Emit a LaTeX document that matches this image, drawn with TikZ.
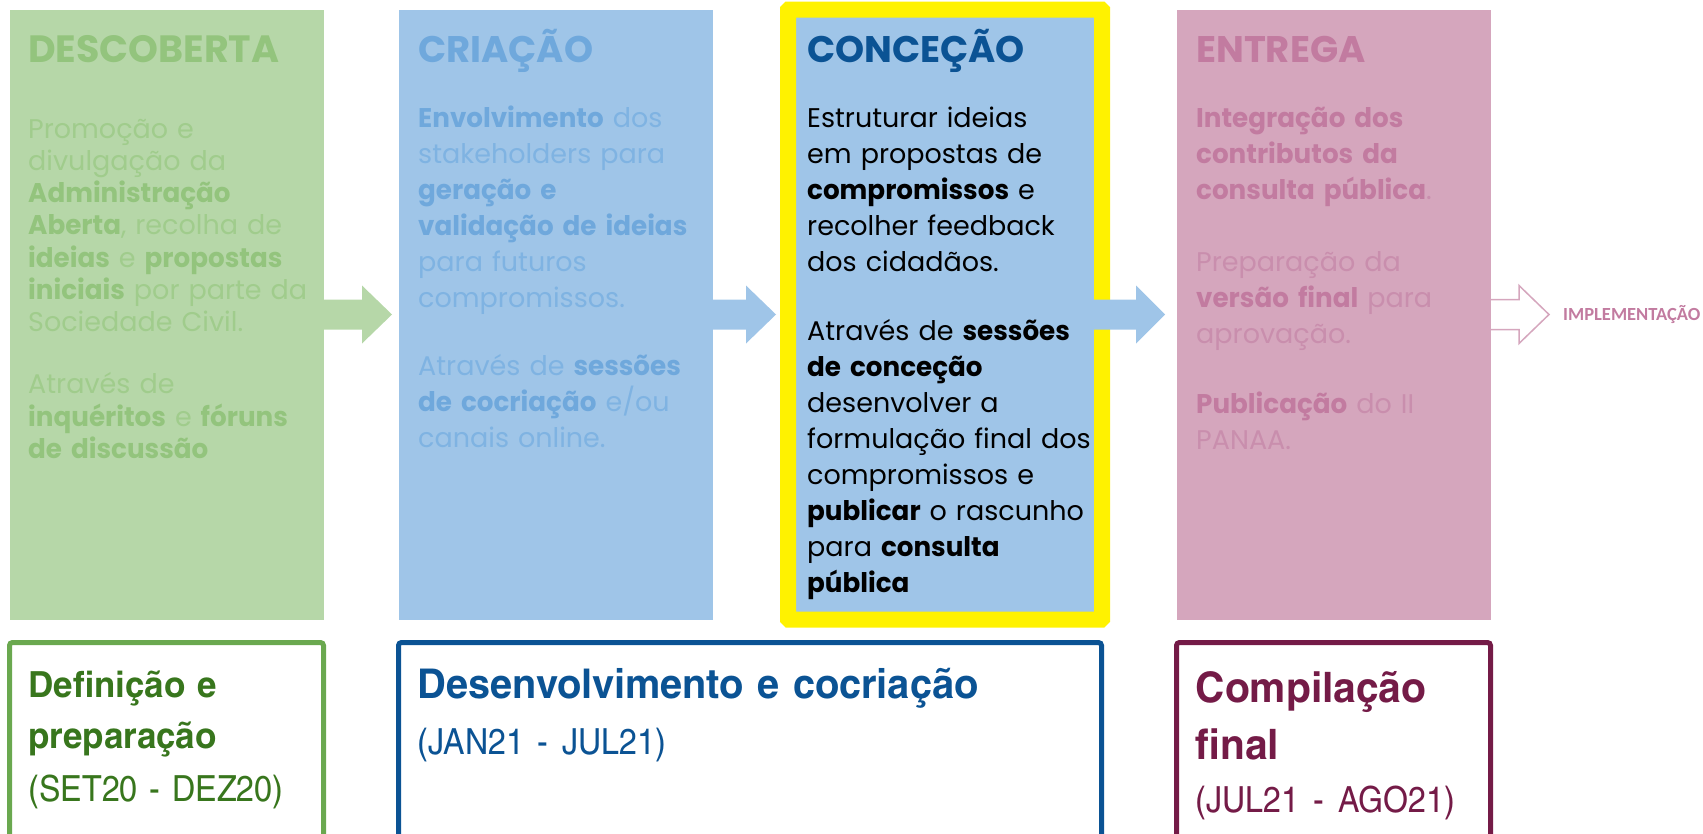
\documentclass[tikz,border=0pt]{standalone}
\usepackage{fontspec}
\setmainfont{Poppins}[BoldFeatures={FakeStretch=0.97}]
\newfontfamily\headfont{Poppins}
\newfontfamily\condfont{texgyreheroscn}[Extension=.otf,UprightFont=*-regular,BoldFont=*-bold,UprightFeatures={FakeStretch=1.09},BoldFeatures={FakeStretch=1.18}]
\newfontfamily\calfont{Carlito}
\usetikzlibrary{positioning}

\definecolor{grfill}{HTML}{B6D7A8}
\definecolor{grtext}{HTML}{93C47D}
\definecolor{grlight}{HTML}{A0CC8C}
\definecolor{blfill}{HTML}{9FC5E8}
\definecolor{bltext}{HTML}{6FA8DC}
\definecolor{bllight}{HTML}{7FB3E2}
\definecolor{pkfill}{HTML}{D5A6BD}
\definecolor{pktext}{HTML}{C27BA0}
\definecolor{pklight}{HTML}{C98EAD}
\definecolor{navy}{HTML}{0B5394}
\definecolor{leaf}{HTML}{6AA84F}
\definecolor{forest}{HTML}{38761D}
\definecolor{wine}{HTML}{741B47}
\newcommand{\kw}[1]{\textbf{\color{kw}#1}}

\begin{document}
\begin{tikzpicture}[x=1pt,y=1pt,
  phase/.style={minimum width=314pt,minimum height=610pt,inner sep=0pt,outer sep=0pt},
  head/.style={anchor=base west,inner sep=0pt,font=\headfont\fontsize{37}{40}\selectfont\bfseries},
  body/.style={anchor=base west,inner sep=0pt,text width=340pt,align=left,font=\fontsize{27}{36}\selectfont},
  period/.style={draw,line width=5pt,rounded corners=3pt,minimum height=240pt,anchor=north west,inner sep=0pt,outer sep=0pt},
  ptext/.style={anchor=base west,inner sep=0pt,text width=660pt,align=left}]
\useasboundingbox (0,0) rectangle (1703,-833);

\node [phase,fill=grfill,anchor=north west] (a) at (10,-9.5) {};
\node [phase,fill=blfill,right=75pt of a] (b) {};
\node [phase,fill=blfill,draw=yellow,line width=16pt,rounded corners=1pt,right=75pt of b] (c) {};
\node [phase,fill=pkfill,right=75pt of c] (d) {};

\fill [grfill] ([yshift=15pt]a.east) -- ++(38,0) -- ++(0,14) -- ++(30,-29) -- ++(-30,-29) -- ++(0,14) -- ++(-38,0) -- cycle;
\fill [blfill] ([yshift=15pt]b.east) -- ++(33,0) -- ++(0,14) -- ++(30,-29) -- ++(-30,-29) -- ++(0,14) -- ++(-33,0) -- cycle;
\fill [blfill] ([xshift=-8pt,yshift=15pt]c.east) -- ++(42,0) -- ++(0,14) -- ++(29,-29) -- ++(-29,-29) -- ++(0,14) -- ++(-42,0) -- cycle;
\draw [pkfill,line width=1.5pt,fill=white] ([yshift=15pt]d.east) -- ++(28,0) -- ++(0,14) -- ++(30,-29) -- ++(-30,-29) -- ++(0,14) -- ++(-28,0);
\node [anchor=west,inner sep=0pt,text=pktext,font=\calfont\bfseries\fontsize{18.5}{20}\selectfont] (i) at ([xshift=72pt]d.east) {IMPLEMENTAÇÃO};

\node [head,text=grtext,font=\headfont\fontsize{38}{40}\selectfont\bfseries] (a1) at ([xshift=18pt,yshift=-52.5pt]a.north west) {DESCOBERTA};
\node [body,text=grlight,font=\fontsize{27}{32.3}\selectfont] (a2) at ([xshift=18pt,yshift=-128.5pt]a.north west) {\colorlet{kw}{grtext}Promoção e\\
  divulgação da\\
  \kw{Administração}\\
  \kw{Aberta}, recolha de\\
  \kw{ideias} e \kw{propostas}\\
  \kw{iniciais} por parte da\\
  Sociedade Civil.\\[29.7pt]
  Através de\\
  \kw{inquéritos} e \kw{fóruns}\\
  \kw{de discussão}};

\node [head,text=bltext] (b1) at ([xshift=19pt,yshift=-52.5pt]b.north west) {CRIAÇÃO};
\node [body,text=bllight] (b2) at ([xshift=19pt,yshift=-117.5pt]b.north west) {\colorlet{kw}{bltext}\kw{Envolvimento} dos\\
  stakeholders para\\
  \kw{geração e}\\
  \kw{validação de ideias}\\
  para futuros\\
  compromissos.\\[32pt]
  Através de \kw{sessões}\\
  \kw{de cocriação} e/ou\\
  canais online.};

\node [head,text=navy] (c1) at ([xshift=19pt,yshift=-52.5pt]c.north west) {CONCEÇÃO};
\node [body,text=black] (c2) at ([xshift=19pt,yshift=-117.5pt]c.north west) {\colorlet{kw}{black}Estruturar ideias\\
  em propostas de\\
  \kw{compromissos} e\\
  recolher feedback\\
  dos cidadãos.\\[33pt]
  Através de \kw{sessões}\\
  \kw{de conceção}\\
  desenvolver a\\
  formulação final dos\\
  compromissos e\\
  \kw{publicar} o rascunho\\
  para \kw{consulta}\\
  \kw{pública}};

\node [head,text=pktext] (d1) at ([xshift=19pt,yshift=-52.5pt]d.north west) {ENTREGA};
\node [body,text=pklight] (d2) at ([xshift=19pt,yshift=-117.5pt]d.north west) {\colorlet{kw}{pktext}\kw{Integração dos}\\
  \kw{contributos da}\\
  \kw{consulta pública}.\\[36pt]
  Preparação da\\
  \kw{versão final} para\\
  aprovação.\\[34pt]
  \kw{Publicação} do II\\
  PANAA.};

\node [period,draw=leaf,minimum width=314pt] (p) at (9.5,-642.5) {};
\node [period,draw=navy,minimum width=703pt] (q) at (398.5,-642.5) {};
\node [period,draw=wine,minimum width=314pt] (r) at (1176.5,-642.5) {};

\node [ptext,text=forest,font=\condfont\fontsize{36}{51}\selectfont] (p1) at ([xshift=19pt,yshift=-54.5pt]p.north west) {\textbf{Definição e\\
  preparação}\\[2pt]
  (SET20 - DEZ20)};
\node [ptext,text=navy,font=\condfont\fontsize{41}{56}\selectfont] (q1) at ([xshift=19pt,yshift=-56pt]q.north west) {\textbf{Desenvolvimento e cocriação}\\
  \fontsize{36}{56}\selectfont(JAN21 - JUL21)};
\node [ptext,text=wine,font=\condfont\fontsize{42}{57}\selectfont] (r1) at ([xshift=19pt,yshift=-60pt]r.north west) {\textbf{Compilação\\
  final}\\[-4pt]
  \fontsize{36}{53}\selectfont(JUL21 - AGO21)};
\end{tikzpicture}
\end{document}
